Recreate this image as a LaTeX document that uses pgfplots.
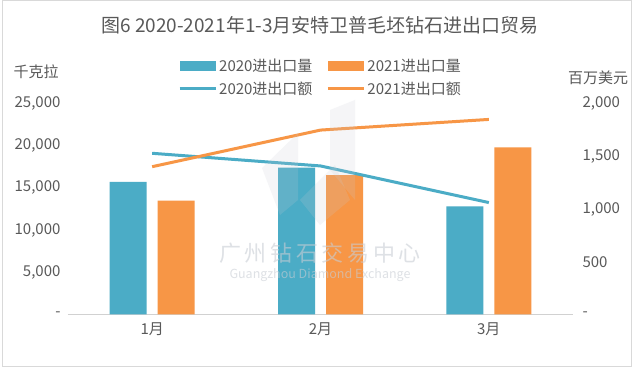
\documentclass[border=0pt]{standalone}
\usepackage{pgfplots}
\pgfplotsset{compat=1.18}
\usepackage{fontspec}
\setmainfont{Noto Sans CJK SC}
\definecolor{cA}{HTML}{4BACC6}
\definecolor{cB}{HTML}{F79646}
\definecolor{tx}{HTML}{595959}
\definecolor{wm}{HTML}{C8CDD4}
\begin{document}
\begin{tikzpicture}[x=1pt,y=1pt]
\useasboundingbox (0,0) rectangle (640,379);
\fill[white] (0,0) rectangle (640,379);
\draw[color=black!15, line width=1pt] (2,12) rectangle (631,378);
\node[text=tx, font=\fontsize{19}{22}\selectfont] at (320,354) {图6 2020-2021年1-3月安特卫普毛坯钻石进出口贸易};
\node[text=tx, font=\fontsize{15}{18}\selectfont] at (36,307) {千克拉};
\node[text=tx, font=\fontsize{15}{18}\selectfont] at (598,301) {百万美元};
\begin{axis}[
  at={(68pt,64.5pt)}, anchor=south west,
  scale only axis, width=505pt, height=211pt,
  xmin=-0.5, xmax=2.5, ymin=0, ymax=25000,
  scaled y ticks=false,
  axis x line*=bottom, axis y line*=left,
  x axis line style={draw=black!18, -, line width=0.8pt},
  y axis line style={draw=none},
  major tick length=0pt,
  xtick={0,1,2}, xticklabels={1月,2月,3月},
  ytick={0,5000,10000,15000,20000,25000},
  yticklabels={-,{5,000},{10,000},{15,000},{20,000},{25,000}},
  ticklabel style={text=tx, font=\fontsize{15}{18}\selectfont},
  yticklabel style={xshift=-4pt},
  xticklabel style={yshift=-5pt},
  legend columns=2,
  legend style={at={(0.5,1.125)}, anchor=center, draw=none, fill=none,
    font=\fontsize{15}{18}\selectfont, text=tx,
    /tikz/every even column/.append style={column sep=12pt},
    row sep=5pt},
]
\addplot[ybar, fill=cA, draw=none, bar width=37pt, bar shift=-24pt,
  legend image code/.code={\fill[cA] (0pt,-5pt) rectangle (36pt,5pt);}]
  coordinates {(0,15700) (1,17400) (2,12800)};
\addplot[ybar, fill=cB, draw=none, bar width=37pt, bar shift=24pt,
  legend image code/.code={\fill[cB] (0pt,-5pt) rectangle (36pt,5pt);}]
  coordinates {(0,13500) (1,16500) (2,19800)};
\addlegendimage{legend image code/.code={\draw[cA, line width=3pt] (0pt,0pt) -- (36pt,0pt);}}
\addlegendimage{legend image code/.code={\draw[cB, line width=3pt] (0pt,0pt) -- (36pt,0pt);}}
\legend{2020进出口量,2021进出口量,2020进出口额,2021进出口额}
\end{axis}
\begin{axis}[
  at={(68pt,64.5pt)}, anchor=south west,
  scale only axis, width=505pt, height=211pt,
  xmin=-0.5, xmax=2.5, ymin=0, ymax=2000,
  scaled y ticks=false,
  hide x axis,
  axis y line*=right,
  y axis line style={draw=none},
  major tick length=0pt,
  ytick={0,500,1000,1500,2000},
  yticklabels={-,500,{1,000},{1,500},{2,000}},
  ticklabel style={text=tx, font=\fontsize{15}{18}\selectfont},
  yticklabel style={xshift=6pt},
]
\addplot[cA, line width=3pt] coordinates {(0,1528) (1,1408) (2,1061)};
\addplot[cB, line width=3pt] coordinates {(0,1401) (1,1748) (2,1849)};
\end{axis}
% faint logo watermark
\fill[wm, opacity=0.18] (262,211) -- (298,246) -- (298,179) -- (280,164) -- cycle;
\fill[wm, opacity=0.18] (300,179) -- (335,214) -- (350,179) -- (320,154) -- cycle;
\fill[wm, opacity=0.18] (330,269) -- (355,279) -- (355,179) -- (330,209) -- cycle;
% text watermark
\node[text=wm, opacity=0.6, font=\fontsize{22}{24}\selectfont] at (320,126) {广\,州\,钻\,石\,交\,易\,中\,心};
\node[text=wm, opacity=0.6, font=\fontsize{12.5}{14}\selectfont] at (320,104) {Guangzhou Diamond Exchange};
\end{tikzpicture}
\end{document}
